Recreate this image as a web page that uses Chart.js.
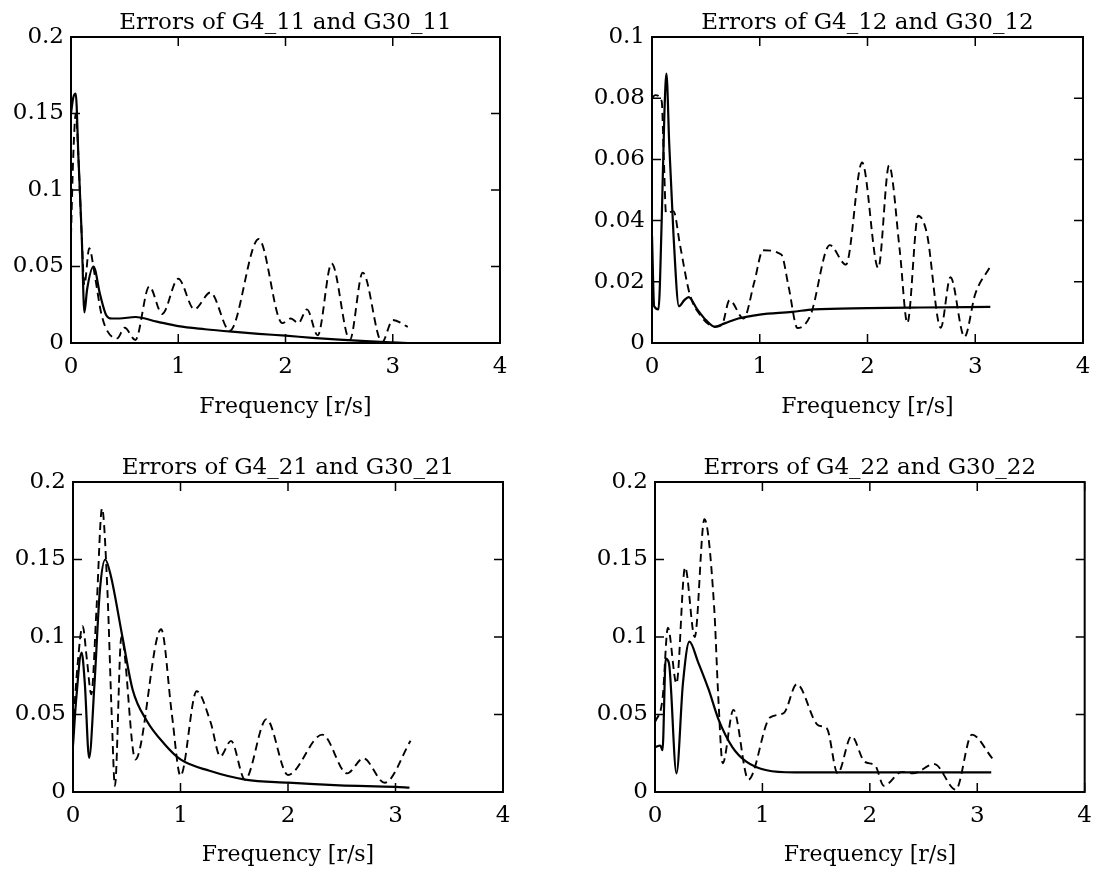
<!DOCTYPE html>
<html>
<head>
<meta charset="utf-8">
<script src="https://cdn.jsdelivr.net/npm/chart.js@4.4.0/dist/chart.umd.min.js"></script>
<style>
  body { margin: 0; background: #fff; }
  #wrap { position: relative; width: 1102px; height: 878px; background: #fff; }
  canvas { position: absolute; }
</style>
</head>
<body>
<div id="wrap">
  <canvas id="c11" width="551" height="439" style="left:0;top:0"></canvas>
  <canvas id="c12" width="551" height="439" style="left:551px;top:0"></canvas>
  <canvas id="c21" width="551" height="439" style="left:0;top:439px"></canvas>
  <canvas id="c22" width="551" height="439" style="left:551px;top:439px"></canvas>
</div>
<script>
// frequency axis ticks
const freqTicks = [0, 1, 2, 3, 4];

// G4_11 (solid) and G30_11 (dashed)
const f11Solid = [0, 0.02, 0.044, 0.07, 0.1, 0.125, 0.15, 0.21, 0.27, 0.33, 0.38, 0.45, 0.6, 0.8, 1.0, 1.25, 1.5, 1.75, 2.0, 2.25, 2.5, 2.75, 3.0, 3.14];
const e11Solid = [0.15, 0.16, 0.163, 0.12, 0.07, 0.02, 0.035, 0.05, 0.032, 0.018, 0.016, 0.016, 0.017, 0.014, 0.011, 0.009, 0.0074, 0.006, 0.0048, 0.0034, 0.0022, 0.0012, 0.0004, 0.0];
const f11Dash = [0, 0.02, 0.045, 0.07, 0.1, 0.125, 0.17, 0.22, 0.28, 0.33, 0.43, 0.5, 0.6, 0.73, 0.85, 1.0, 1.15, 1.3, 1.48, 1.75, 1.97, 2.05, 2.12, 2.2, 2.3, 2.43, 2.6, 2.72, 2.9, 3.0, 3.14];
const e11Dash = [0.07, 0.12, 0.15, 0.12, 0.07, 0.038, 0.062, 0.045, 0.02, 0.009, 0.003, 0.01, 0.002, 0.037, 0.019, 0.042, 0.022, 0.033, 0.008, 0.068, 0.013, 0.016, 0.013, 0.022, 0.005, 0.052, 0.002, 0.046, 0.0005, 0.015, 0.0106];

// G4_12 (solid) and G30_12 (dashed)
const f12Solid = [0, 0.02, 0.06, 0.09, 0.115, 0.134, 0.16, 0.2, 0.25, 0.3, 0.34, 0.42, 0.5, 0.585, 0.68, 0.8, 1.0, 1.3, 1.5, 2.0, 2.5, 3.14];
const e12Solid = [0.035, 0.012, 0.011, 0.04, 0.075, 0.088, 0.065, 0.035, 0.012, 0.014, 0.015, 0.011, 0.0075, 0.0053, 0.0065, 0.008, 0.0093, 0.0102, 0.011, 0.0114, 0.0116, 0.0118];
const f12Dash = [0, 0.03, 0.09, 0.11, 0.13, 0.2, 0.26, 0.35, 0.45, 0.585, 0.65, 0.72, 0.85, 0.95, 1.03, 1.2, 1.27, 1.35, 1.47, 1.65, 1.8, 1.95, 2.1, 2.2, 2.3, 2.37, 2.47, 2.55, 2.68, 2.77, 2.9, 3.0, 3.14];
const e12Dash = [0.08, 0.081, 0.079, 0.06, 0.0425, 0.043, 0.032, 0.016, 0.009, 0.0053, 0.006, 0.014, 0.008, 0.02, 0.0303, 0.0289, 0.018, 0.0049, 0.009, 0.032, 0.0256, 0.059, 0.0245, 0.058, 0.03, 0.0065, 0.0416, 0.036, 0.005, 0.0215, 0.002, 0.016, 0.025];

// G4_21 (solid) and G30_21 (dashed)
const f21Solid = [0, 0.03, 0.08, 0.11, 0.15, 0.2, 0.25, 0.3, 0.35, 0.46, 0.555, 0.686, 0.85, 1.0, 1.27, 1.6, 2.0, 2.48, 3.0, 3.13];
const e21Solid = [0.03, 0.06, 0.09, 0.07, 0.022, 0.07, 0.13, 0.15, 0.14, 0.1, 0.066, 0.046, 0.031, 0.021, 0.0137, 0.008, 0.006, 0.0043, 0.0033, 0.0028];
const f21Dash = [0, 0.04, 0.09, 0.13, 0.17, 0.22, 0.27, 0.32, 0.36, 0.39, 0.45, 0.58, 0.82, 0.92, 1.0, 1.15, 1.28, 1.37, 1.47, 1.6, 1.8, 2.0, 2.32, 2.55, 2.7, 2.9, 3.14];
const e21Dash = [0.04, 0.08, 0.107, 0.085, 0.063, 0.12, 0.183, 0.13, 0.05, 0.004, 0.1, 0.021, 0.105, 0.05, 0.0104, 0.065, 0.045, 0.023, 0.033, 0.008, 0.047, 0.011, 0.037, 0.012, 0.0217, 0.006, 0.033];

// G4_22 (solid) and G30_22 (dashed)
const f22Solid = [0, 0.05, 0.07, 0.1, 0.13, 0.2, 0.26, 0.32, 0.4, 0.5, 0.59, 0.72, 0.85, 1.04, 1.3, 2.0, 3.13];
const e22Solid = [0.029, 0.03, 0.027, 0.086, 0.083, 0.012, 0.07, 0.097, 0.084, 0.066, 0.047, 0.029, 0.0196, 0.014, 0.0126, 0.0126, 0.0126];
const f22Dash = [0, 0.07, 0.12, 0.2, 0.28, 0.37, 0.46, 0.55, 0.59, 0.63, 0.73, 0.87, 1.07, 1.2, 1.32, 1.52, 1.6, 1.7, 1.83, 1.95, 2.05, 2.13, 2.3, 2.4, 2.6, 2.8, 2.95, 3.14];
const e22Dash = [0.045, 0.06, 0.106, 0.07, 0.145, 0.1, 0.176, 0.12, 0.06, 0.0185, 0.053, 0.008, 0.048, 0.051, 0.0696, 0.043, 0.041, 0.012, 0.036, 0.0196, 0.017, 0.004, 0.013, 0.012, 0.018, 0.0015, 0.037, 0.0217];

const FONT = 'DejaVu Serif';
const TICK = 9;

// frame, inward ticks and panel title
const framePlugin = {
  id: 'frame',
  afterDraw(chart, args, opts) {
    const {ctx, chartArea: a, scales: {x, y}} = chart;
    ctx.save();
    ctx.strokeStyle = '#000';
    ctx.lineWidth = 2;
    ctx.strokeRect(a.left, a.top, a.right - a.left, a.bottom - a.top);
    ctx.lineWidth = 1.5;
    ctx.beginPath();
    x.ticks.forEach(t => {
      const px = x.getPixelForValue(t.value);
      ctx.moveTo(px, a.bottom); ctx.lineTo(px, a.bottom - TICK);
      ctx.moveTo(px, a.top); ctx.lineTo(px, a.top + TICK);
    });
    y.ticks.forEach(t => {
      const py = y.getPixelForValue(t.value);
      ctx.moveTo(a.left, py); ctx.lineTo(a.left + TICK, py);
      ctx.moveTo(a.right, py); ctx.lineTo(a.right - TICK, py);
    });
    ctx.stroke();
    ctx.fillStyle = '#000';
    ctx.font = '23px "' + FONT + '"';
    ctx.textAlign = 'center';
    ctx.textBaseline = 'alphabetic';
    ctx.fillText(opts.text, (a.left + a.right) / 2, a.top - 8);
    ctx.restore();
  }
};

function pts(xs, ys) {
  return xs.map((v, i) => ({x: v, y: ys[i]}));
}

function makePanel(id, title, yMax, yStep, fs, es, fd, ed, box) {
  new Chart(document.getElementById(id), {
    type: 'line',
    data: {
      datasets: [
        {data: pts(fs, es), borderColor: '#000', borderWidth: 2.2, pointRadius: 0, cubicInterpolationMode: 'monotone'},
        {data: pts(fd, ed), borderColor: '#000', borderWidth: 1.9, borderDash: [8, 5], pointRadius: 0, cubicInterpolationMode: 'monotone'}
      ]
    },
    options: {
      responsive: false,
      animation: false,
      layout: {padding: {top: box.top, right: box.right, left: 0, bottom: 0}},
      plugins: {legend: {display: false}, tooltip: {enabled: false}, frame: {text: title}},
      scales: {
        x: {
          type: 'linear', min: 0, max: 4,
          afterBuildTicks: s => { s.ticks = freqTicks.map(v => ({value: v})); },
          afterFit: s => { s.height = box.xh; },
          grid: {display: false, drawTicks: false},
          border: {display: false},
          ticks: {color: '#000', font: {family: FONT, size: 23}, padding: 10, maxRotation: 0},
          title: {display: true, text: 'Frequency [r/s]', color: '#000', font: {family: FONT, size: 22}, padding: {top: 0, bottom: box.tb}}
        },
        y: {
          min: 0, max: yMax,
          afterFit: s => { s.width = box.yw; },
          grid: {display: false, drawTicks: false},
          border: {display: false},
          ticks: {stepSize: yStep, color: '#000', font: {family: FONT, size: 23}, padding: 7,
                  callback: v => String(+v.toFixed(4))}
        }
      }
    },
    plugins: [framePlugin]
  });
}

makePanel('c11', 'Errors of G4_11 and G30_11', 0.2, 0.05, f11Solid, e11Solid, f11Dash, e11Dash, {top: 37, right: 51, yw: 71, xh: 96, tb: 19});
makePanel('c12', 'Errors of G4_12 and G30_12', 0.1, 0.02, f12Solid, e12Solid, f12Dash, e12Dash, {top: 37, right: 19, yw: 101, xh: 96, tb: 19});
makePanel('c21', 'Errors of G4_21 and G30_21', 0.2, 0.05, f21Solid, e21Solid, f21Dash, e21Dash, {top: 43, right: 48, yw: 73, xh: 86, tb: 10});
makePanel('c22', 'Errors of G4_22 and G30_22', 0.2, 0.05, f22Solid, e22Solid, f22Dash, e22Dash, {top: 43, right: 17, yw: 104, xh: 86, tb: 10});
</script>
</body>
</html>
